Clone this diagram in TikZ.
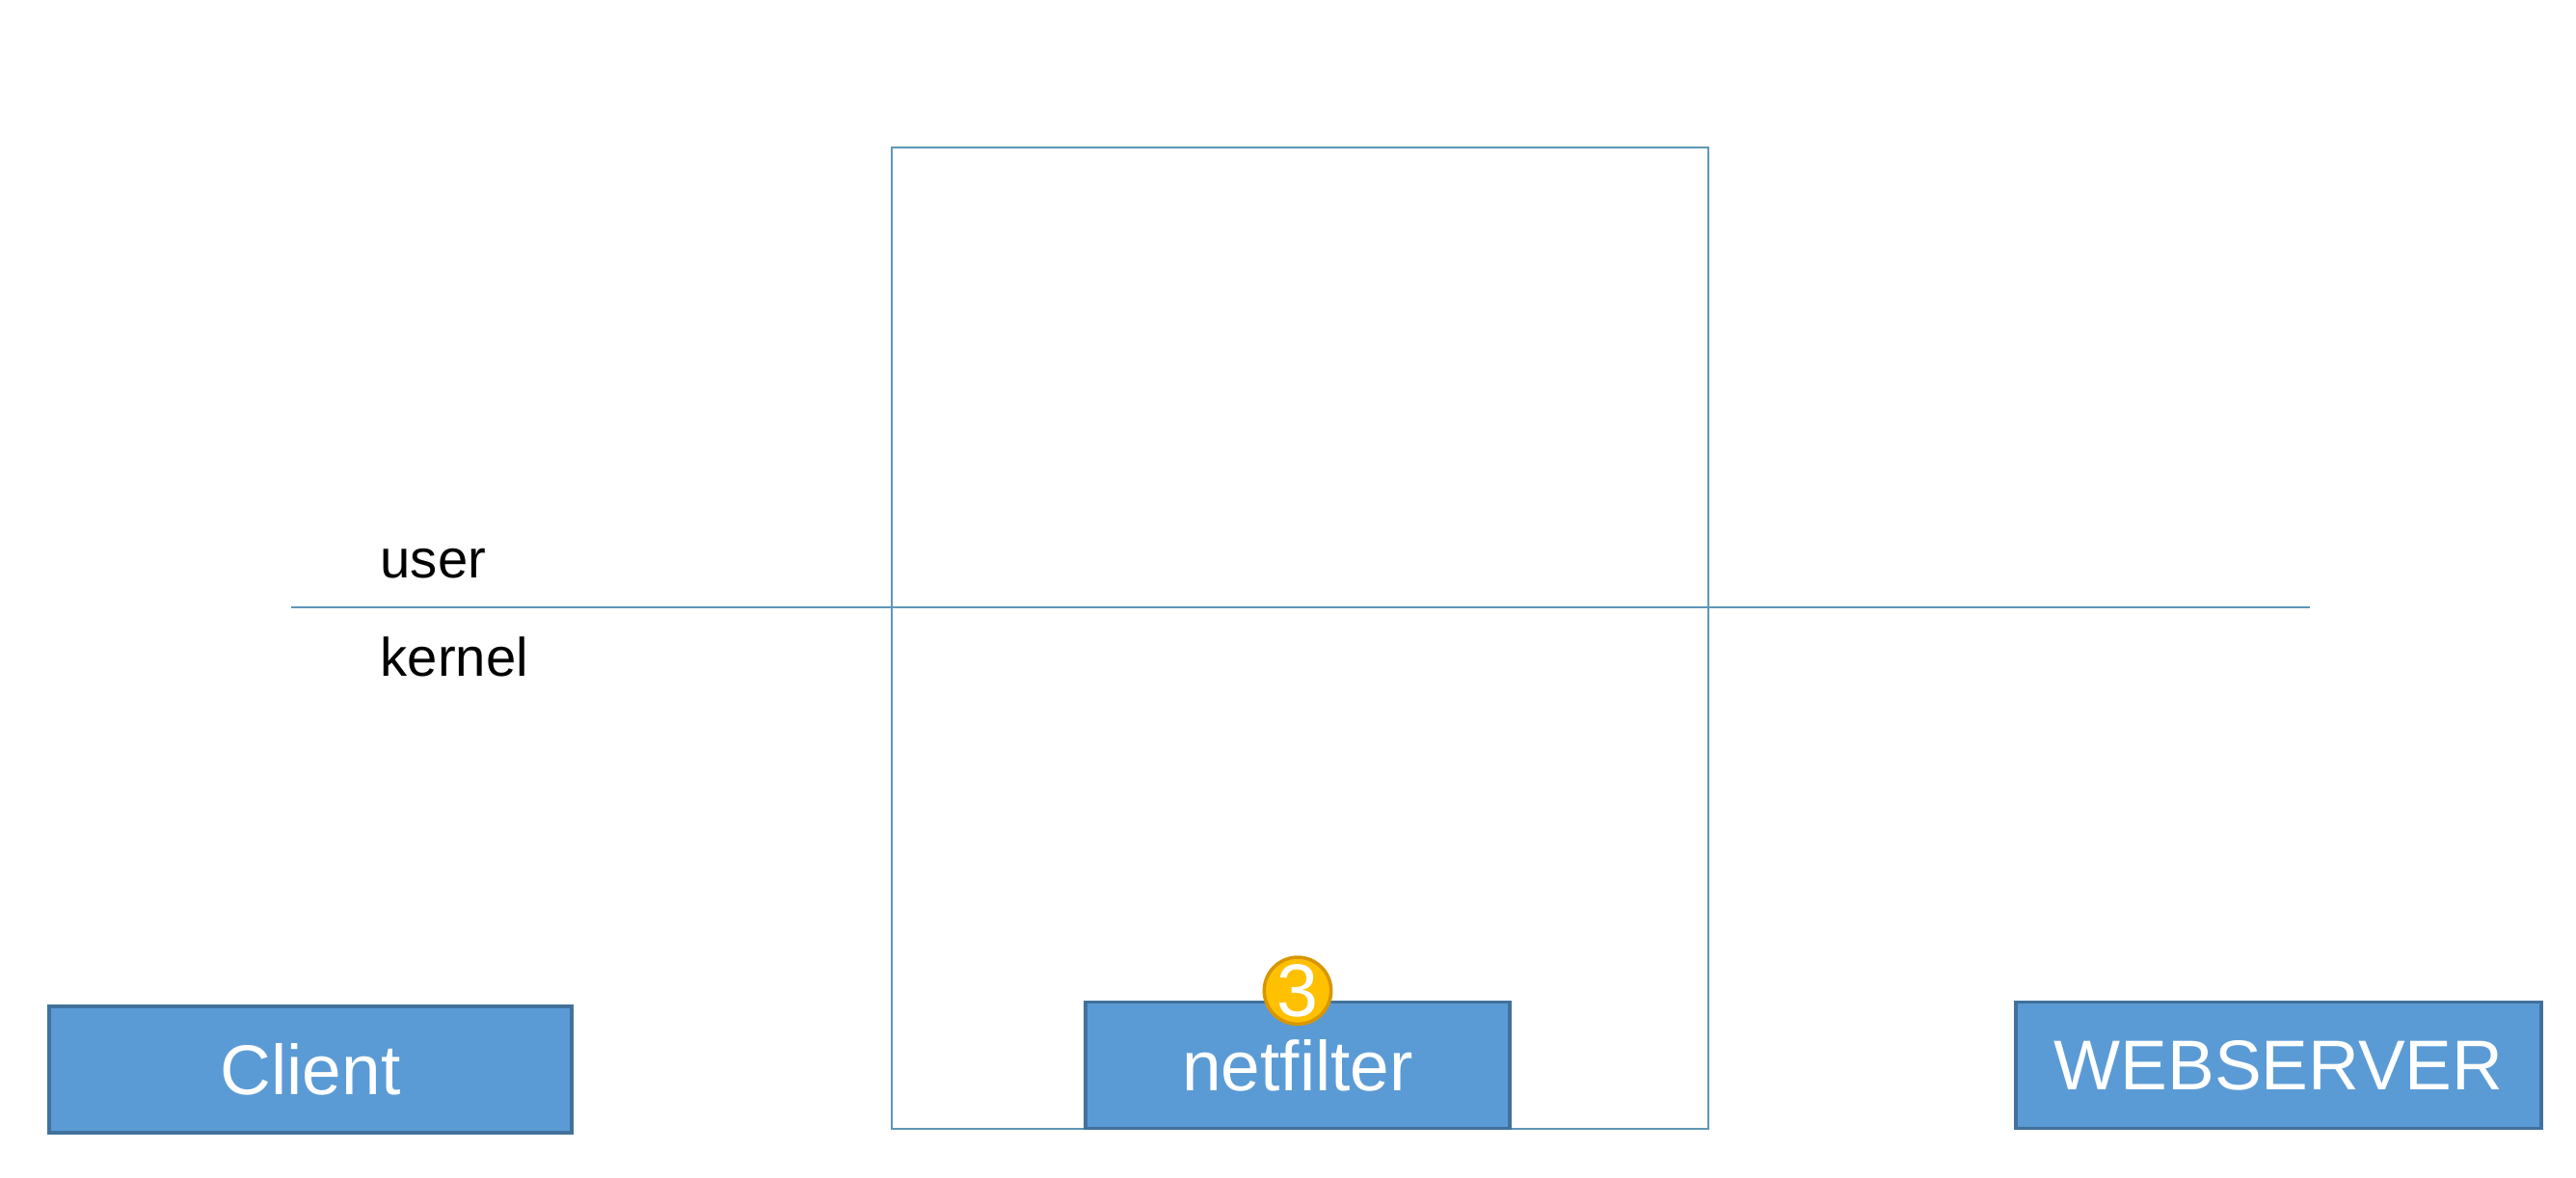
\documentclass[tikz,border=0pt]{standalone}
\usepackage{fontspec}
\setmainfont{Liberation Sans}
\usetikzlibrary{positioning,calc}
\definecolor{boxblue}{RGB}{91,155,213}
\definecolor{boxedge}{RGB}{65,113,156}
\definecolor{frameline}{RGB}{95,150,185}
\definecolor{badgegold}{RGB}{255,192,0}
\definecolor{badgeedge}{RGB}{215,150,0}

\tikzset{
  hostbox/.style={draw=boxedge, fill=boxblue, line width=1pt, text=white,
    font=\fontsize{20.8}{25}\selectfont, inner sep=0pt, minimum height=1.31cm},
  ringtag/.style={circle, draw=badgeedge, fill=badgegold, line width=1pt,
    text=white, minimum size=0.68cm, inner sep=0pt, font=\fontsize{22}{24}\selectfont},
  layertag/.style={anchor=base west, inner sep=0pt, font=\fontsize{16}{20}\selectfont}
}

\begin{document}
\begin{tikzpicture}

% ── Canvas ───────────────────────────────────────────────────────────────────
\useasboundingbox[fill=white] (0,0) rectangle (26.72,12.22);

% ── Host frame and user/kernel split ─────────────────────────────────────────
\node[draw=frameline, line width=0.75pt, minimum width=8.47cm,
      minimum height=10.18cm, inner sep=0pt] (stack) at (13.485,5.60) {};

\coordinate (sepL) at (3.02,5.92);
\coordinate (sepR) at (23.96,5.92);
\draw[frameline, line width=0.75pt] (sepL) -- (sepR);

\node[layertag] (user)   at (3.94,6.22) {user};
\node[layertag] (kernel) at (3.94,5.20) {kernel};

% ── Boxes along the bottom ───────────────────────────────────────────────────
\node[hostbox, minimum width=5.42cm] (client)    at (3.22,1.125)  {Client};
\node[hostbox, minimum width=4.40cm] (netfilter) at (13.46,1.17)  {netfilter};
\node[hostbox, minimum width=5.45cm] (webserver) at (23.635,1.17) {WEBSERVER};

% step badge
\node[ringtag] (hook) at ($(netfilter.north)+(0,0.10)$) {3};

\end{tikzpicture}
\end{document}
